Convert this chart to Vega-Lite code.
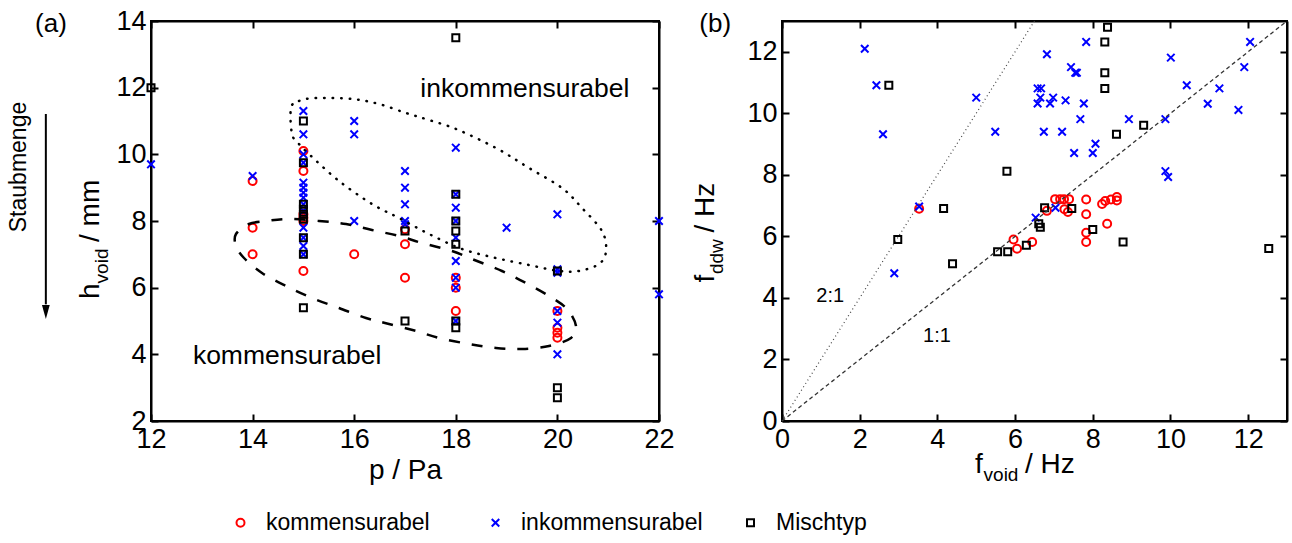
{
  "$schema": "https://vega.github.io/schema/vega-lite/v6.json",
  "padding": {"left": 6, "top": 6, "right": 2, "bottom": 2},
  "background": "white",
  "datasets": {
    "a": [
      {"p": 14, "h": 9.2, "type": "kommensurabel"},
      {"p": 14, "h": 7.8, "type": "kommensurabel"},
      {"p": 14, "h": 7.0, "type": "kommensurabel"},
      {"p": 15, "h": 10.1, "type": "kommensurabel"},
      {"p": 15, "h": 9.5, "type": "kommensurabel"},
      {"p": 15, "h": 8.2, "type": "kommensurabel"},
      {"p": 15, "h": 8.1, "type": "kommensurabel"},
      {"p": 15, "h": 8.0, "type": "kommensurabel"},
      {"p": 15, "h": 6.5, "type": "kommensurabel"},
      {"p": 16, "h": 7.0, "type": "kommensurabel"},
      {"p": 17, "h": 7.75, "type": "kommensurabel"},
      {"p": 17, "h": 7.3, "type": "kommensurabel"},
      {"p": 17, "h": 6.3, "type": "kommensurabel"},
      {"p": 18, "h": 6.3, "type": "kommensurabel"},
      {"p": 18, "h": 6.0, "type": "kommensurabel"},
      {"p": 18, "h": 5.3, "type": "kommensurabel"},
      {"p": 20, "h": 5.3, "type": "kommensurabel"},
      {"p": 20, "h": 4.8, "type": "kommensurabel"},
      {"p": 20, "h": 4.65, "type": "kommensurabel"},
      {"p": 20, "h": 4.5, "type": "kommensurabel"},
      {"p": 12, "h": 9.7, "type": "inkommensurabel"},
      {"p": 14, "h": 9.35, "type": "inkommensurabel"},
      {"p": 15, "h": 11.3, "type": "inkommensurabel"},
      {"p": 15, "h": 10.6, "type": "inkommensurabel"},
      {"p": 15, "h": 10.0, "type": "inkommensurabel"},
      {"p": 15, "h": 9.75, "type": "inkommensurabel"},
      {"p": 15, "h": 9.15, "type": "inkommensurabel"},
      {"p": 15, "h": 9.0, "type": "inkommensurabel"},
      {"p": 15, "h": 8.85, "type": "inkommensurabel"},
      {"p": 15, "h": 8.7, "type": "inkommensurabel"},
      {"p": 15, "h": 8.5, "type": "inkommensurabel"},
      {"p": 15, "h": 8.3, "type": "inkommensurabel"},
      {"p": 15, "h": 7.8, "type": "inkommensurabel"},
      {"p": 15, "h": 7.5, "type": "inkommensurabel"},
      {"p": 15, "h": 7.25, "type": "inkommensurabel"},
      {"p": 15, "h": 7.0, "type": "inkommensurabel"},
      {"p": 16, "h": 11.0, "type": "inkommensurabel"},
      {"p": 16, "h": 10.6, "type": "inkommensurabel"},
      {"p": 16, "h": 8.0, "type": "inkommensurabel"},
      {"p": 17, "h": 9.5, "type": "inkommensurabel"},
      {"p": 17, "h": 9.0, "type": "inkommensurabel"},
      {"p": 17, "h": 8.5, "type": "inkommensurabel"},
      {"p": 17, "h": 8.0, "type": "inkommensurabel"},
      {"p": 17, "h": 7.9, "type": "inkommensurabel"},
      {"p": 18, "h": 10.2, "type": "inkommensurabel"},
      {"p": 18, "h": 8.8, "type": "inkommensurabel"},
      {"p": 18, "h": 8.4, "type": "inkommensurabel"},
      {"p": 18, "h": 8.0, "type": "inkommensurabel"},
      {"p": 18, "h": 7.5, "type": "inkommensurabel"},
      {"p": 18, "h": 6.8, "type": "inkommensurabel"},
      {"p": 18, "h": 6.3, "type": "inkommensurabel"},
      {"p": 18, "h": 6.0, "type": "inkommensurabel"},
      {"p": 18, "h": 5.0, "type": "inkommensurabel"},
      {"p": 19, "h": 7.8, "type": "inkommensurabel"},
      {"p": 20, "h": 8.2, "type": "inkommensurabel"},
      {"p": 20, "h": 6.55, "type": "inkommensurabel"},
      {"p": 20, "h": 6.45, "type": "inkommensurabel"},
      {"p": 20, "h": 5.3, "type": "inkommensurabel"},
      {"p": 20, "h": 4.95, "type": "inkommensurabel"},
      {"p": 20, "h": 4.0, "type": "inkommensurabel"},
      {"p": 22, "h": 8.0, "type": "inkommensurabel"},
      {"p": 22, "h": 5.8, "type": "inkommensurabel"},
      {"p": 12, "h": 12.0, "type": "Mischtyp"},
      {"p": 15, "h": 11.0, "type": "Mischtyp"},
      {"p": 15, "h": 9.75, "type": "Mischtyp"},
      {"p": 15, "h": 8.5, "type": "Mischtyp"},
      {"p": 15, "h": 8.35, "type": "Mischtyp"},
      {"p": 15, "h": 8.2, "type": "Mischtyp"},
      {"p": 15, "h": 8.05, "type": "Mischtyp"},
      {"p": 15, "h": 7.5, "type": "Mischtyp"},
      {"p": 15, "h": 7.0, "type": "Mischtyp"},
      {"p": 15, "h": 5.4, "type": "Mischtyp"},
      {"p": 17, "h": 7.7, "type": "Mischtyp"},
      {"p": 17, "h": 5.0, "type": "Mischtyp"},
      {"p": 18, "h": 13.5, "type": "Mischtyp"},
      {"p": 18, "h": 8.8, "type": "Mischtyp"},
      {"p": 18, "h": 8.0, "type": "Mischtyp"},
      {"p": 18, "h": 7.7, "type": "Mischtyp"},
      {"p": 18, "h": 7.3, "type": "Mischtyp"},
      {"p": 18, "h": 5.0, "type": "Mischtyp"},
      {"p": 18, "h": 4.8, "type": "Mischtyp"},
      {"p": 20, "h": 6.5, "type": "Mischtyp"},
      {"p": 20, "h": 3.0, "type": "Mischtyp"},
      {"p": 20, "h": 2.7, "type": "Mischtyp"}
    ],
    "b": [
      {"fv": 3.53, "fd": 6.9, "type": "kommensurabel"},
      {"fv": 5.96, "fd": 5.9, "type": "kommensurabel"},
      {"fv": 6.05, "fd": 5.6, "type": "kommensurabel"},
      {"fv": 6.44, "fd": 5.82, "type": "kommensurabel"},
      {"fv": 6.82, "fd": 6.83, "type": "kommensurabel"},
      {"fv": 7.03, "fd": 7.21, "type": "kommensurabel"},
      {"fv": 7.16, "fd": 7.21, "type": "kommensurabel"},
      {"fv": 7.26, "fd": 7.21, "type": "kommensurabel"},
      {"fv": 7.39, "fd": 7.21, "type": "kommensurabel"},
      {"fv": 7.27, "fd": 6.88, "type": "kommensurabel"},
      {"fv": 7.36, "fd": 6.79, "type": "kommensurabel"},
      {"fv": 7.83, "fd": 7.2, "type": "kommensurabel"},
      {"fv": 7.83, "fd": 6.72, "type": "kommensurabel"},
      {"fv": 7.83, "fd": 6.12, "type": "kommensurabel"},
      {"fv": 7.83, "fd": 5.82, "type": "kommensurabel"},
      {"fv": 8.24, "fd": 7.05, "type": "kommensurabel"},
      {"fv": 8.32, "fd": 7.15, "type": "kommensurabel"},
      {"fv": 8.47, "fd": 7.2, "type": "kommensurabel"},
      {"fv": 8.62, "fd": 7.28, "type": "kommensurabel"},
      {"fv": 8.62, "fd": 7.17, "type": "kommensurabel"},
      {"fv": 8.37, "fd": 6.41, "type": "kommensurabel"},
      {"fv": 2.13, "fd": 12.1, "type": "inkommensurabel"},
      {"fv": 2.43, "fd": 10.91, "type": "inkommensurabel"},
      {"fv": 2.6, "fd": 9.32, "type": "inkommensurabel"},
      {"fv": 2.89, "fd": 4.8, "type": "inkommensurabel"},
      {"fv": 3.53, "fd": 6.97, "type": "inkommensurabel"},
      {"fv": 5.0, "fd": 10.51, "type": "inkommensurabel"},
      {"fv": 5.49, "fd": 9.4, "type": "inkommensurabel"},
      {"fv": 6.53, "fd": 6.61, "type": "inkommensurabel"},
      {"fv": 7.04, "fd": 6.93, "type": "inkommensurabel"},
      {"fv": 6.82, "fd": 11.92, "type": "inkommensurabel"},
      {"fv": 7.44, "fd": 11.5, "type": "inkommensurabel"},
      {"fv": 7.55, "fd": 11.32, "type": "inkommensurabel"},
      {"fv": 7.59, "fd": 11.32, "type": "inkommensurabel"},
      {"fv": 7.83, "fd": 12.32, "type": "inkommensurabel"},
      {"fv": 6.58, "fd": 10.81, "type": "inkommensurabel"},
      {"fv": 6.67, "fd": 10.81, "type": "inkommensurabel"},
      {"fv": 6.65, "fd": 10.51, "type": "inkommensurabel"},
      {"fv": 6.98, "fd": 10.51, "type": "inkommensurabel"},
      {"fv": 6.58, "fd": 10.32, "type": "inkommensurabel"},
      {"fv": 6.9, "fd": 10.32, "type": "inkommensurabel"},
      {"fv": 7.3, "fd": 10.42, "type": "inkommensurabel"},
      {"fv": 7.77, "fd": 10.32, "type": "inkommensurabel"},
      {"fv": 7.68, "fd": 9.81, "type": "inkommensurabel"},
      {"fv": 6.74, "fd": 9.4, "type": "inkommensurabel"},
      {"fv": 7.21, "fd": 9.4, "type": "inkommensurabel"},
      {"fv": 8.07, "fd": 9.01, "type": "inkommensurabel"},
      {"fv": 7.52, "fd": 8.71, "type": "inkommensurabel"},
      {"fv": 8.0, "fd": 8.71, "type": "inkommensurabel"},
      {"fv": 8.93, "fd": 9.81, "type": "inkommensurabel"},
      {"fv": 9.87, "fd": 9.81, "type": "inkommensurabel"},
      {"fv": 10.01, "fd": 11.81, "type": "inkommensurabel"},
      {"fv": 10.42, "fd": 10.91, "type": "inkommensurabel"},
      {"fv": 11.26, "fd": 10.81, "type": "inkommensurabel"},
      {"fv": 10.96, "fd": 10.31, "type": "inkommensurabel"},
      {"fv": 11.75, "fd": 10.11, "type": "inkommensurabel"},
      {"fv": 11.9, "fd": 11.5, "type": "inkommensurabel"},
      {"fv": 12.05, "fd": 12.32, "type": "inkommensurabel"},
      {"fv": 9.87, "fd": 8.12, "type": "inkommensurabel"},
      {"fv": 9.94, "fd": 7.93, "type": "inkommensurabel"},
      {"fv": 2.75, "fd": 10.91, "type": "Mischtyp"},
      {"fv": 5.79, "fd": 8.12, "type": "Mischtyp"},
      {"fv": 4.16, "fd": 6.91, "type": "Mischtyp"},
      {"fv": 2.98, "fd": 5.9, "type": "Mischtyp"},
      {"fv": 4.39, "fd": 5.11, "type": "Mischtyp"},
      {"fv": 5.55, "fd": 5.5, "type": "Mischtyp"},
      {"fv": 5.81, "fd": 5.5, "type": "Mischtyp"},
      {"fv": 6.29, "fd": 5.71, "type": "Mischtyp"},
      {"fv": 6.61, "fd": 6.41, "type": "Mischtyp"},
      {"fv": 6.65, "fd": 6.3, "type": "Mischtyp"},
      {"fv": 6.76, "fd": 6.93, "type": "Mischtyp"},
      {"fv": 7.46, "fd": 6.91, "type": "Mischtyp"},
      {"fv": 8.0, "fd": 6.22, "type": "Mischtyp"},
      {"fv": 8.78, "fd": 5.82, "type": "Mischtyp"},
      {"fv": 12.53, "fd": 5.61, "type": "Mischtyp"},
      {"fv": 8.38, "fd": 12.8, "type": "Mischtyp"},
      {"fv": 8.31, "fd": 12.32, "type": "Mischtyp"},
      {"fv": 8.31, "fd": 11.32, "type": "Mischtyp"},
      {"fv": 8.31, "fd": 10.81, "type": "Mischtyp"},
      {"fv": 8.61, "fd": 9.32, "type": "Mischtyp"},
      {"fv": 9.31, "fd": 9.61, "type": "Mischtyp"}
    ],
    "ellDot": [
      {"i": 1, "p": 14.756, "h": 11.39}, {"i": 2, "p": 14.913, "h": 11.6}, {"i": 3, "p": 15.248, "h": 11.69},
      {"i": 4, "p": 15.957, "h": 11.66}, {"i": 5, "p": 16.488, "h": 11.51}, {"i": 6, "p": 17.02, "h": 11.24},
      {"i": 7, "p": 17.472, "h": 11.03}, {"i": 8, "p": 18.004, "h": 10.76}, {"i": 9, "p": 18.791, "h": 10.19},
      {"i": 10, "p": 19.441, "h": 9.59}, {"i": 11, "p": 20.091, "h": 8.99}, {"i": 12, "p": 20.484, "h": 8.39},
      {"i": 13, "p": 20.878, "h": 7.7}, {"i": 14, "p": 20.957, "h": 7.1}, {"i": 15, "p": 20.819, "h": 6.71},
      {"i": 16, "p": 20.425, "h": 6.5}, {"i": 17, "p": 20.031, "h": 6.5}, {"i": 18, "p": 19.441, "h": 6.68},
      {"i": 19, "p": 18.791, "h": 6.89}, {"i": 20, "p": 18.122, "h": 7.16}, {"i": 21, "p": 17.472, "h": 7.61},
      {"i": 22, "p": 16.882, "h": 8.09}, {"i": 23, "p": 16.35, "h": 8.51}, {"i": 24, "p": 15.701, "h": 9.2},
      {"i": 25, "p": 15.15, "h": 9.95}, {"i": 26, "p": 14.913, "h": 10.31}, {"i": 27, "p": 14.776, "h": 10.61}
    ],
    "ellDash": [
      {"i": 1, "p": 13.673, "h": 7.61}, {"i": 2, "p": 13.929, "h": 7.91}, {"i": 3, "p": 14.264, "h": 8.0},
      {"i": 4, "p": 14.717, "h": 8.06}, {"i": 5, "p": 15.307, "h": 8.0}, {"i": 6, "p": 15.839, "h": 7.91},
      {"i": 7, "p": 16.35, "h": 7.73}, {"i": 8, "p": 16.882, "h": 7.55}, {"i": 9, "p": 17.335, "h": 7.34},
      {"i": 10, "p": 17.925, "h": 7.1}, {"i": 11, "p": 18.319, "h": 6.86}, {"i": 12, "p": 18.909, "h": 6.5},
      {"i": 13, "p": 19.382, "h": 6.14}, {"i": 14, "p": 19.835, "h": 5.75}, {"i": 15, "p": 20.189, "h": 5.36},
      {"i": 16, "p": 20.366, "h": 4.85}, {"i": 17, "p": 20.268, "h": 4.49}, {"i": 18, "p": 19.835, "h": 4.25},
      {"i": 19, "p": 19.303, "h": 4.16}, {"i": 20, "p": 18.791, "h": 4.19}, {"i": 21, "p": 18.26, "h": 4.31},
      {"i": 22, "p": 17.669, "h": 4.49}, {"i": 23, "p": 17.217, "h": 4.7}, {"i": 24, "p": 16.685, "h": 4.91},
      {"i": 25, "p": 16.232, "h": 5.09}, {"i": 26, "p": 15.701, "h": 5.39}, {"i": 27, "p": 15.169, "h": 5.69},
      {"i": 28, "p": 14.657, "h": 6.05}, {"i": 29, "p": 14.185, "h": 6.44}, {"i": 30, "p": 13.831, "h": 6.89},
      {"i": 31, "p": 13.673, "h": 7.25}
    ],
    "ratios": [
      {"ratio": "1:1", "fv": 0, "fd": 0}, {"ratio": "1:1", "fv": 13, "fd": 13},
      {"ratio": "2:1", "fv": 0, "fd": 0}, {"ratio": "2:1", "fv": 6.5, "fd": 13}
    ],
    "one": [{}]
  },
  "hconcat": [
    {
      "width": 508,
      "height": 400,
      "resolve": {"axis": {"x": "independent", "y": "independent"}},
      "layer": [
        {
          "data": {"name": "a"},
          "mark": {"type": "point", "filled": false, "strokeWidth": 2, "opacity": 1},
          "encoding": {
            "x": {"field": "p", "type": "quantitative", "scale": {"domain": [12, 22], "nice": false, "zero": false},
                  "axis": {"orient": "bottom", "values": [12, 14, 16, 18, 20, 22], "title": "p / Pa", "titlePadding": 4}},
            "y": {"field": "h", "type": "quantitative", "scale": {"domain": [2, 14], "nice": false, "zero": false},
                  "axis": {"orient": "left", "values": [2, 4, 6, 8, 10, 12, 14], "title": null}},
            "color": {"field": "type", "type": "nominal",
                      "scale": {"domain": ["kommensurabel", "inkommensurabel", "Mischtyp"], "range": ["#ff0000", "#0000ff", "#000000"]},
                      "legend": {"title": null}},
            "shape": {"field": "type", "type": "nominal",
                      "scale": {"domain": ["kommensurabel", "inkommensurabel", "Mischtyp"], "range": ["circle", "M-1,-1L1,1M-1,1L1,-1", "square"]},
                      "legend": {"title": null}},
            "size": {"field": "type", "type": "nominal",
                     "scale": {"domain": ["kommensurabel", "inkommensurabel", "Mischtyp"], "range": [64, 49, 121]},
                     "legend": null}
          }
        },
        {
          "data": {"name": "ellDot"},
          "mark": {"type": "line", "interpolate": "cardinal-closed", "color": "black", "strokeWidth": 2.5, "strokeDash": [0.5, 8], "strokeCap": "round"},
          "encoding": {
            "x": {"field": "p", "type": "quantitative", "scale": {"domain": [12, 22], "nice": false, "zero": false},
                  "axis": {"orient": "top", "values": [12, 14, 16, 18, 20, 22], "labels": false, "title": null}},
            "y": {"field": "h", "type": "quantitative", "scale": {"domain": [2, 14], "nice": false, "zero": false},
                  "axis": {"orient": "right", "values": [2, 4, 6, 8, 10, 12, 14], "labels": false, "title": null}},
            "order": {"field": "i", "type": "quantitative"}
          }
        },
        {
          "data": {"name": "ellDash"},
          "mark": {"type": "line", "interpolate": "cardinal-closed", "color": "black", "strokeWidth": 2.5, "strokeDash": [11, 12]},
          "encoding": {
            "x": {"field": "p", "type": "quantitative", "scale": {"domain": [12, 22], "nice": false, "zero": false}, "axis": null},
            "y": {"field": "h", "type": "quantitative", "scale": {"domain": [2, 14], "nice": false, "zero": false}, "axis": null},
            "order": {"field": "i", "type": "quantitative"}
          }
        },
        {
          "data": {"name": "one"},
          "mark": {"type": "text", "text": "inkommensurabel", "fontSize": 26.5, "align": "center", "baseline": "middle"},
          "encoding": {
            "x": {"datum": 19.36, "type": "quantitative", "scale": {"domain": [12, 22], "nice": false, "zero": false}, "axis": null},
            "y": {"datum": 11.96, "type": "quantitative", "scale": {"domain": [2, 14], "nice": false, "zero": false}, "axis": null}
          }
        },
        {
          "data": {"name": "one"},
          "mark": {"type": "text", "text": "kommensurabel", "fontSize": 26.5, "align": "center", "baseline": "middle"},
          "encoding": {
            "x": {"datum": 14.68, "type": "quantitative", "scale": {"domain": [12, 22], "nice": false, "zero": false}, "axis": null},
            "y": {"datum": 3.95, "type": "quantitative", "scale": {"domain": [2, 14], "nice": false, "zero": false}, "axis": null}
          }
        },
        {
          "data": {"name": "one"},
          "mark": {"type": "text", "text": "(a)", "fontSize": 26, "align": "center", "baseline": "middle"},
          "encoding": {
            "x": {"datum": 10.03, "type": "quantitative", "scale": {"domain": [12, 22], "nice": false, "zero": false}, "axis": null},
            "y": {"datum": 13.9, "type": "quantitative", "scale": {"domain": [2, 14], "nice": false, "zero": false}, "axis": null}
          }
        },
        {
          "data": {"name": "one"},
          "mark": {"type": "text", "text": "Staubmenge", "fontSize": 23, "align": "center", "baseline": "middle", "angle": 270},
          "encoding": {
            "x": {"datum": 9.4, "type": "quantitative", "scale": {"domain": [12, 22], "nice": false, "zero": false}, "axis": null},
            "y": {"datum": 9.62, "type": "quantitative", "scale": {"domain": [2, 14], "nice": false, "zero": false}, "axis": null}
          }
        },
        {
          "data": {"name": "one"},
          "mark": {"type": "rule", "color": "black", "strokeWidth": 2},
          "encoding": {
            "x": {"datum": 9.93, "type": "quantitative", "scale": {"domain": [12, 22], "nice": false, "zero": false}, "axis": null},
            "y": {"datum": 11.21, "type": "quantitative", "scale": {"domain": [2, 14], "nice": false, "zero": false}, "axis": null},
            "y2": {"datum": 5.5}
          }
        },
        {
          "data": {"name": "one"},
          "mark": {"type": "point", "shape": "M-0.55,-1L0.55,-1L0,1Z", "filled": true, "color": "black", "size": 200, "opacity": 1},
          "encoding": {
            "x": {"datum": 9.93, "type": "quantitative", "scale": {"domain": [12, 22], "nice": false, "zero": false}, "axis": null},
            "y": {"datum": 5.27, "type": "quantitative", "scale": {"domain": [2, 14], "nice": false, "zero": false}, "axis": null}
          }
        },
        {
          "data": {"name": "one"},
          "mark": {"type": "text", "text": "h", "fontSize": 28, "align": "left", "baseline": "alphabetic", "angle": 270},
          "encoding": {
            "x": {"datum": 10.976, "type": "quantitative", "scale": {"domain": [12, 22], "nice": false, "zero": false}, "axis": null},
            "y": {"datum": 5.66, "type": "quantitative", "scale": {"domain": [2, 14], "nice": false, "zero": false}, "axis": null}
          }
        },
        {
          "data": {"name": "one"},
          "mark": {"type": "text", "text": "void", "fontSize": 19, "align": "left", "baseline": "alphabetic", "angle": 270, "dx": 15.6, "dy": 9},
          "encoding": {
            "x": {"datum": 10.976, "type": "quantitative", "scale": {"domain": [12, 22], "nice": false, "zero": false}, "axis": null},
            "y": {"datum": 5.66, "type": "quantitative", "scale": {"domain": [2, 14], "nice": false, "zero": false}, "axis": null}
          }
        },
        {
          "data": {"name": "one"},
          "mark": {"type": "text", "text": "/ mm", "fontSize": 28, "align": "left", "baseline": "alphabetic", "angle": 270, "dx": 57},
          "encoding": {
            "x": {"datum": 10.976, "type": "quantitative", "scale": {"domain": [12, 22], "nice": false, "zero": false}, "axis": null},
            "y": {"datum": 5.66, "type": "quantitative", "scale": {"domain": [2, 14], "nice": false, "zero": false}, "axis": null}
          }
        }
      ]
    },
    {
      "width": 505,
      "height": 400,
      "resolve": {"axis": {"x": "independent", "y": "independent"}},
      "layer": [
        {
          "data": {"name": "b"},
          "mark": {"type": "point", "filled": false, "strokeWidth": 2, "opacity": 1},
          "encoding": {
            "x": {"field": "fv", "type": "quantitative", "scale": {"domain": [0, 13], "nice": false},
                  "axis": {"orient": "bottom", "values": [0, 2, 4, 6, 8, 10, 12], "title": null}},
            "y": {"field": "fd", "type": "quantitative", "scale": {"domain": [0, 13], "nice": false},
                  "axis": {"orient": "left", "values": [0, 2, 4, 6, 8, 10, 12], "title": null}},
            "color": {"field": "type", "type": "nominal",
                      "scale": {"domain": ["kommensurabel", "inkommensurabel", "Mischtyp"], "range": ["#ff0000", "#0000ff", "#000000"]},
                      "legend": {"title": null}},
            "shape": {"field": "type", "type": "nominal",
                      "scale": {"domain": ["kommensurabel", "inkommensurabel", "Mischtyp"], "range": ["circle", "M-1,-1L1,1M-1,1L1,-1", "square"]},
                      "legend": {"title": null}},
            "size": {"field": "type", "type": "nominal",
                     "scale": {"domain": ["kommensurabel", "inkommensurabel", "Mischtyp"], "range": [64, 49, 121]},
                     "legend": null}
          }
        },
        {
          "data": {"name": "ratios"},
          "transform": [{"filter": "datum.ratio === '1:1'"}],
          "mark": {"type": "line", "color": "#333333", "strokeWidth": 1.3, "strokeDash": [4, 3]},
          "encoding": {
            "x": {"field": "fv", "type": "quantitative", "scale": {"domain": [0, 13], "nice": false},
                  "axis": {"orient": "top", "values": [0, 2, 4, 6, 8, 10, 12], "labels": false, "title": null}},
            "y": {"field": "fd", "type": "quantitative", "scale": {"domain": [0, 13], "nice": false},
                  "axis": {"orient": "right", "values": [0, 2, 4, 6, 8, 10, 12], "labels": false, "title": null}}
          }
        },
        {
          "data": {"name": "ratios"},
          "transform": [{"filter": "datum.ratio === '2:1'"}],
          "mark": {"type": "line", "color": "#444444", "strokeWidth": 1.2, "strokeDash": [1, 3]},
          "encoding": {
            "x": {"field": "fv", "type": "quantitative", "scale": {"domain": [0, 13], "nice": false}, "axis": null},
            "y": {"field": "fd", "type": "quantitative", "scale": {"domain": [0, 13], "nice": false}, "axis": null}
          }
        },
        {
          "data": {"name": "one"},
          "mark": {"type": "text", "text": "2:1", "fontSize": 20, "align": "center", "baseline": "middle"},
          "encoding": {
            "x": {"datum": 1.24, "type": "quantitative", "scale": {"domain": [0, 13], "nice": false}, "axis": null},
            "y": {"datum": 4.06, "type": "quantitative", "scale": {"domain": [0, 13], "nice": false}, "axis": null}
          }
        },
        {
          "data": {"name": "one"},
          "mark": {"type": "text", "text": "1:1", "fontSize": 20, "align": "center", "baseline": "middle"},
          "encoding": {
            "x": {"datum": 3.99, "type": "quantitative", "scale": {"domain": [0, 13], "nice": false}, "axis": null},
            "y": {"datum": 2.76, "type": "quantitative", "scale": {"domain": [0, 13], "nice": false}, "axis": null}
          }
        },
        {
          "data": {"name": "one"},
          "mark": {"type": "text", "text": "(b)", "fontSize": 26, "align": "center", "baseline": "middle"},
          "encoding": {
            "x": {"datum": -1.72, "type": "quantitative", "scale": {"domain": [0, 13], "nice": false}, "axis": null},
            "y": {"datum": 12.9, "type": "quantitative", "scale": {"domain": [0, 13], "nice": false}, "axis": null}
          }
        },
        {
          "data": {"name": "one"},
          "mark": {"type": "text", "text": "f", "fontSize": 28, "align": "left", "baseline": "alphabetic", "angle": 270},
          "encoding": {
            "x": {"datum": -1.75, "type": "quantitative", "scale": {"domain": [0, 13], "nice": false}, "axis": null},
            "y": {"datum": 4.5, "type": "quantitative", "scale": {"domain": [0, 13], "nice": false}, "axis": null}
          }
        },
        {
          "data": {"name": "one"},
          "mark": {"type": "text", "text": "ddw", "fontSize": 19, "align": "left", "baseline": "alphabetic", "angle": 270, "dx": 8.5, "dy": 9},
          "encoding": {
            "x": {"datum": -1.75, "type": "quantitative", "scale": {"domain": [0, 13], "nice": false}, "axis": null},
            "y": {"datum": 4.5, "type": "quantitative", "scale": {"domain": [0, 13], "nice": false}, "axis": null}
          }
        },
        {
          "data": {"name": "one"},
          "mark": {"type": "text", "text": "/ Hz", "fontSize": 28, "align": "left", "baseline": "alphabetic", "angle": 270, "dx": 50},
          "encoding": {
            "x": {"datum": -1.75, "type": "quantitative", "scale": {"domain": [0, 13], "nice": false}, "axis": null},
            "y": {"datum": 4.5, "type": "quantitative", "scale": {"domain": [0, 13], "nice": false}, "axis": null}
          }
        },
        {
          "data": {"name": "one"},
          "mark": {"type": "text", "text": "f", "fontSize": 28, "align": "left", "baseline": "alphabetic"},
          "encoding": {
            "x": {"datum": 4.97, "type": "quantitative", "scale": {"domain": [0, 13], "nice": false}, "axis": null},
            "y": {"datum": -1.69, "type": "quantitative", "scale": {"domain": [0, 13], "nice": false}, "axis": null}
          }
        },
        {
          "data": {"name": "one"},
          "mark": {"type": "text", "text": "void", "fontSize": 19, "align": "left", "baseline": "alphabetic", "dx": 8.5, "dy": 8},
          "encoding": {
            "x": {"datum": 4.97, "type": "quantitative", "scale": {"domain": [0, 13], "nice": false}, "axis": null},
            "y": {"datum": -1.69, "type": "quantitative", "scale": {"domain": [0, 13], "nice": false}, "axis": null}
          }
        },
        {
          "data": {"name": "one"},
          "mark": {"type": "text", "text": "/ Hz", "fontSize": 28, "align": "left", "baseline": "alphabetic", "dx": 50},
          "encoding": {
            "x": {"datum": 4.97, "type": "quantitative", "scale": {"domain": [0, 13], "nice": false}, "axis": null},
            "y": {"datum": -1.69, "type": "quantitative", "scale": {"domain": [0, 13], "nice": false}, "axis": null}
          }
        }
      ]
    }
  ],
  "spacing": 15,
  "resolve": {"scale": {"color": "shared", "shape": "shared", "size": "shared"}, "legend": {"color": "shared", "shape": "shared"}},
  "config": {
    "view": {"stroke": "black", "strokeWidth": 2},
    "axis": {
      "grid": false, "domainColor": "black", "domainWidth": 2, "tickColor": "black", "tickWidth": 2, "tickSize": -7,
      "labelFont": "Liberation Sans", "labelFontSize": 27, "labelColor": "black", "labelPadding": 12,
      "labelFlush": false, "labelOverlap": false,
      "titleFont": "Liberation Sans", "titleFontSize": 28, "titleFontWeight": "normal", "titleColor": "black"
    },
    "legend": {
      "orient": "none", "legendX": 78, "legendY": 490, "direction": "horizontal", "labelFont": "Liberation Sans", "labelFontSize": 23,
      "labelColor": "black", "labelLimit": 0, "symbolSize": 40, "symbolStrokeWidth": 2, "gridAlign": "all", "columnPadding": 36,
      "labelOffset": 14, "padding": 0
    },
    "text": {"font": "Liberation Sans", "color": "black"}
  }
}
